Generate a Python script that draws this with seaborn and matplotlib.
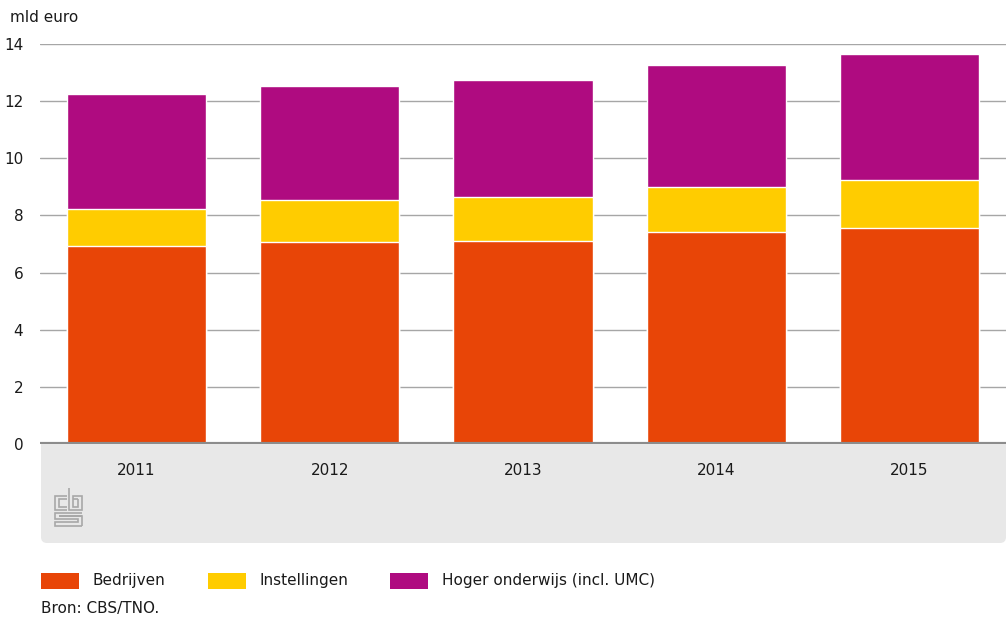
import numpy as np
import pandas as pd
import matplotlib
matplotlib.use('Agg')
import matplotlib.pyplot as plt
import seaborn as sns
from matplotlib.patches import FancyBboxPatch, Rectangle

years = ['2011', '2012', '2013', '2014', '2015']
bedrijven = [6.92, 7.07, 7.09, 7.43, 7.56]
instellingen = [1.31, 1.48, 1.56, 1.57, 1.69]
hoger_onderwijs = [4.01, 3.97, 4.09, 4.28, 4.39]

series = ['Bedrijven', 'Instellingen', 'Hoger onderwijs (incl. UMC)']
colors = ['#e84507', '#ffcc00', '#af0b80']

# stacked via cumulative tops, drawn from the highest down
b = np.array(bedrijven)
bi = b + np.array(instellingen)
tot = bi + np.array(hoger_onderwijs)
df = pd.DataFrame({'jaar': years, 'b': b, 'bi': bi, 'tot': tot})

sns.set_style('white')
plt.rcParams['font.family'] = ['DejaVu Sans']

W, H = 1006, 621
fig = plt.figure(figsize=(W / 100, H / 100), dpi=100)

# background decoration layer in pixel coords
bg = fig.add_axes([0, 0, 1, 1], zorder=0)
bg.set_xlim(0, W); bg.set_ylim(H, 0); bg.axis('off')
bg.add_patch(FancyBboxPatch((41, 444), 965, 99, boxstyle='round,pad=0,rounding_size=6',
                            facecolor='#e8e8e8', edgecolor='none', mutation_aspect=1))
bg.add_patch(Rectangle((41, 444), 965, 20, facecolor='#e8e8e8', edgecolor='none'))

# cbs logo (rough)
lc = dict(color='#a8a8a8', lw=1.2, solid_capstyle='butt', solid_joinstyle='miter')
bg.plot([67, 55.5, 55.5, 67], [495.5, 495.5, 510, 510], **lc)
bg.plot([67, 59, 59, 67], [499, 499, 506.5, 506.5], **lc)
bg.plot([69, 69, 82, 82, 73, 73, 78, 78], [488, 510, 510, 495.5, 495.5, 506.5, 506.5, 499], **lc)
bg.plot([73, 78], [499, 499], **lc)
bg.plot([82, 55.5, 55.5, 78.5, 78.5, 55.5, 55.5, 82], [512.5, 512.5, 519, 519, 522, 522, 525.5, 525.5], **lc)
bg.plot([82, 59, 59, 82, 82], [516, 516, 515.7, 515.7, 525.5], **lc)

ax = fig.add_axes([40 / W, (H - 444) / H, (W - 40) / W, 400 / H], zorder=1)
ax.patch.set_alpha(0)

sns.barplot(data=df, x='jaar', y='tot', color=colors[2], width=0.72,
            edgecolor='white', linewidth=1, saturation=1, ax=ax, zorder=3)
sns.barplot(data=df, x='jaar', y='bi', color=colors[1], width=0.72,
            edgecolor='white', linewidth=1, saturation=1, ax=ax, zorder=3)
sns.barplot(data=df, x='jaar', y='b', color=colors[0], width=0.72,
            edgecolor='white', linewidth=1, saturation=1, ax=ax, zorder=3)

ax.set_xlim(-0.5, 4.5)
ax.set_ylim(0, 14)
ax.set_yticks(range(0, 15, 2))
for yv in range(2, 15, 2):
    ax.axhline(yv, color='#a6a6a6', lw=1, zorder=1)
ax.axhline(0, color='#8c8c8c', lw=3, zorder=4)
for s in ax.spines.values():
    s.set_visible(False)
ax.tick_params(axis='both', length=0, labelsize=11, colors='#1a1a1a')
ax.tick_params(axis='y', pad=12)
ax.tick_params(axis='x', pad=14)
ax.set_xlabel('')
ax.set_ylabel('')

fig.text(10 / W, 1 - 17 / H, 'mld euro', fontsize=11, color='#1a1a1a', va='center', ha='left')

# legend
leg_x = [41, 208, 390]
for x0, name, c in zip(leg_x, series, colors):
    bg.add_patch(Rectangle((x0, 573), 38, 16, facecolor=c, edgecolor='none'))
    bg.text(x0 + 52, 581, name, fontsize=11, color='#1a1a1a', va='center', ha='left')
bg.text(41, 609, 'Bron: CBS/TNO.', fontsize=11, color='#1a1a1a', va='center', ha='left')

fig.savefig('out.png', dpi=100)
